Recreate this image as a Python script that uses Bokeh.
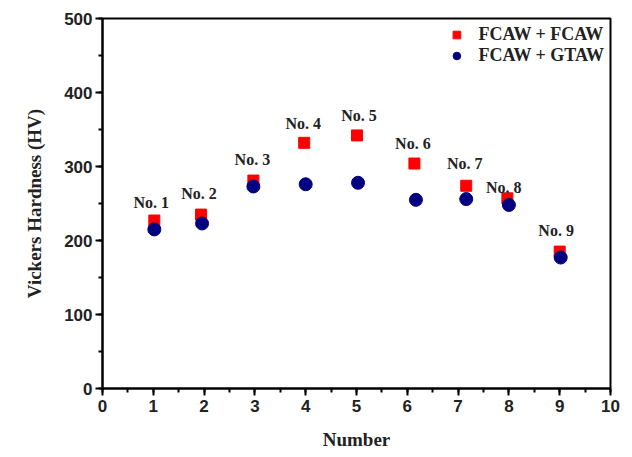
from bokeh.plotting import figure
from bokeh.models import Range1d, Legend, LegendItem, ColumnDataSource, SingleIntervalTicker
from bokeh.core.properties import value
from bokeh.embed import file_html
from bokeh.resources import INLINE

# Data
x_fcaw = [1.02, 1.94, 2.97, 3.97, 5.01, 6.14, 7.16, 7.97, 9.0]
hv_fcaw = [227, 235, 281, 332, 342, 304, 274, 257, 185]
x_gtaw = [1.02, 1.96, 2.97, 4.0, 5.03, 6.17, 7.16, 8.0, 9.02]
hv_gtaw = [215, 223, 273, 276, 278, 255, 256, 248, 177]
labels = ["No. 1", "No. 2", "No. 3", "No. 4", "No. 5", "No. 6", "No. 7", "No. 8", "No. 9"]
label_x = [0.96, 1.9, 2.95, 3.95, 5.05, 6.11, 7.13, 7.9, 8.93]
label_y = [252, 263, 310, 358, 369, 331, 304, 271, 213]

serif = "Liberation Serif"
sans = "Liberation Sans"

p = figure(width=624, height=456, output_backend="svg", toolbar_location=None,
           x_range=Range1d(0, 10), y_range=Range1d(0, 500),
           min_border_left=102, min_border_right=14, min_border_top=18, min_border_bottom=68)
p.background_fill_color = "white"
p.border_fill_color = "white"
p.outline_line_color = "black"
p.outline_line_width = 2
p.xgrid.visible = False
p.ygrid.visible = False

sq = p.scatter(x_fcaw, hv_fcaw, marker="square", size=11, fill_color="#ff0000", line_color="#ff0000")
ci = p.scatter(x_gtaw, hv_gtaw, marker="circle", size=13, fill_color="#000080", line_color="#000080")

src = ColumnDataSource(dict(x=label_x, y=label_y, t=labels))
p.text(x="x", y="y", text="t", source=src, text_align="center", text_baseline="middle",
       text_font=value(serif), text_font_style="bold", text_font_size="16px", text_color="#222222")

p.xaxis.ticker = SingleIntervalTicker(interval=1, num_minor_ticks=2)
p.yaxis.ticker = SingleIntervalTicker(interval=100, num_minor_ticks=2)

for ax in (p.xaxis[0], p.yaxis[0]):
    ax.axis_line_width = 2
    ax.axis_line_color = "black"
    ax.major_tick_line_width = 2
    ax.minor_tick_line_width = 2
    ax.major_tick_out = 7
    ax.major_tick_in = 0
    ax.minor_tick_out = 4
    ax.minor_tick_in = 0
    ax.major_label_text_font = sans
    ax.major_label_text_font_style = "bold"
    ax.major_label_text_font_size = "17px"
    ax.major_label_text_color = "#222222"
    ax.axis_label_text_font = serif
    ax.axis_label_text_font_style = "bold"
    ax.axis_label_text_font_size = "19px"
    ax.axis_label_text_color = "#222222"

p.xaxis.axis_label = "Number"
p.yaxis.axis_label = "Vickers Hardness (HV)"
p.xaxis.major_label_standoff = 4
p.yaxis.major_label_standoff = 3
p.xaxis.axis_label_standoff = 14
p.yaxis.axis_label_standoff = 16

legend = Legend(items=[LegendItem(label="FCAW + FCAW", renderers=[sq]),
                       LegendItem(label="FCAW + GTAW", renderers=[ci])],
                location="top_right")
legend.border_line_color = None
legend.background_fill_alpha = 0
legend.padding = 0
legend.margin = 6
legend.spacing = 0
legend.glyph_width = 20
legend.glyph_height = 19
legend.label_height = 19
legend.label_standoff = 12
legend.label_text_font = serif
legend.label_text_font_style = "bold"
legend.label_text_font_size = "18px"
legend.label_text_color = "#222222"
p.add_layout(legend)

open("out.html", "w").write(file_html(p, INLINE))
